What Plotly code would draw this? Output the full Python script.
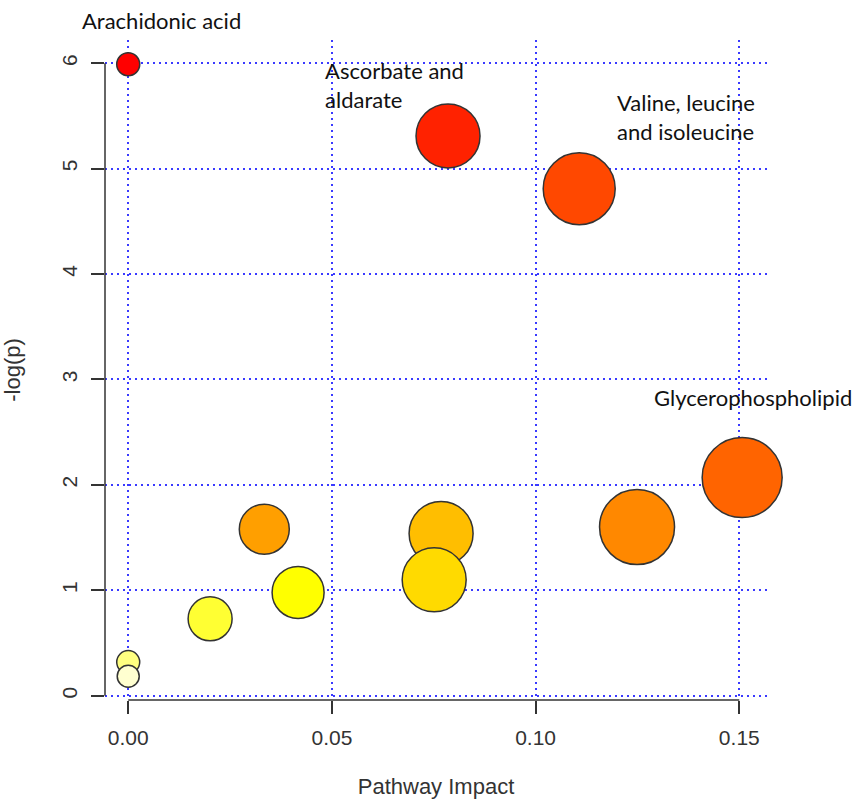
import plotly.graph_objects as go

# Pathway impact vs. significance (-log p); bubble size/colour encode importance
impact = [0.0, 0.0785, 0.1107, 0.1507, 0.1249, 0.0768, 0.0751, 0.0334, 0.0417, 0.0201, 0.0, 0.0]
neglogp = [5.99, 5.31, 4.81, 2.07, 1.60, 1.54, 1.10, 1.58, 0.98, 0.73, 0.32, 0.185]
bubble = [23, 64, 72, 80, 75, 64, 64, 50, 52, 44, 23, 22]
fill = ["#FF0000", "#FF2200", "#FF4800", "#FF6400", "#FF8800", "#FFBE00",
        "#FFDA00", "#FF9F00", "#FFFF00", "#FFFF33", "#FFFF80", "#FFFFD0"]

x_ticks = [0.0, 0.05, 0.10, 0.15]
x_labels = ["0.00", "0.05", "0.10", "0.15"]
y_ticks = [0, 1, 2, 3, 4, 5, 6]

# pathway name labels, positioned in paper coordinates
labels = [
    ("Arachidonic acid", -0.0378, 1.0288),
    ("Ascorbate and<br>aldarate", 0.3293, 0.9311),
    ("Valine, leucine<br>and isoleucine", 0.7704, 0.8826),
    ("Glycerophospholipid", 0.8263, 0.4576),
]

axis_col = "#333333"
grid_col = "#3a3aff"
tick_font = dict(family="Liberation Sans, Arial, sans-serif", size=21, color="#333333")
title_font = dict(family="Liberation Sans, Arial, sans-serif", size=22, color="#333333")

fig = go.Figure()
fig.add_trace(go.Scatter(
    x=impact, y=neglogp, mode="markers",
    marker=dict(size=bubble, color=fill, opacity=1,
                line=dict(color="#333333", width=1.5)),
    hoverinfo="x+y", showlegend=False, cliponaxis=False,
))

for text, xv, yv in labels:
    fig.add_annotation(x=xv, y=yv, xref="paper", yref="paper", text=text,
                       showarrow=False, xanchor="left", yanchor="middle", align="left",
                       font=dict(family="Lato, Open Sans, sans-serif", size=22, color="#111111"))

# R-style axis lines that only span the tick range
fig.add_shape(type="line", xref="paper", yref="y", x0=0, x1=0, y0=y_ticks[0], y1=y_ticks[-1],
              line=dict(color=axis_col, width=1.5))
fig.add_shape(type="line", xref="x", yref="paper", x0=x_ticks[0], x1=x_ticks[-1], y0=0, y1=0,
              line=dict(color=axis_col, width=1.5))

fig.update_layout(
    width=856, height=802,
    margin=dict(l=105, r=89, t=40, b=102),
    paper_bgcolor="white", plot_bgcolor="white",
    xaxis=dict(range=[-0.0057, 0.1568], tickvals=x_ticks, ticktext=x_labels, automargin=False,
               showgrid=True, gridcolor=grid_col, gridwidth=2, griddash="2px,4px",
               zeroline=False, showline=False, ticks="outside", ticklen=13,
               tickwidth=1.5, tickcolor=axis_col, tickfont=tick_font, ticklabelstandoff=6,
               title=dict(text="Pathway Impact", font=title_font, standoff=30)),
    yaxis=dict(range=[-0.04, 6.22], tickvals=y_ticks, tickangle=-90, automargin=False,
               showgrid=True, gridcolor=grid_col, gridwidth=2, griddash="2px,4px",
               zeroline=False, showline=False, ticks="outside", ticklen=13,
               tickwidth=1.5, tickcolor=axis_col, tickfont=tick_font, ticklabelstandoff=6,
               title=dict(text="-log(p)", font=title_font, standoff=30)),
)

fig.write_html("out.html")
